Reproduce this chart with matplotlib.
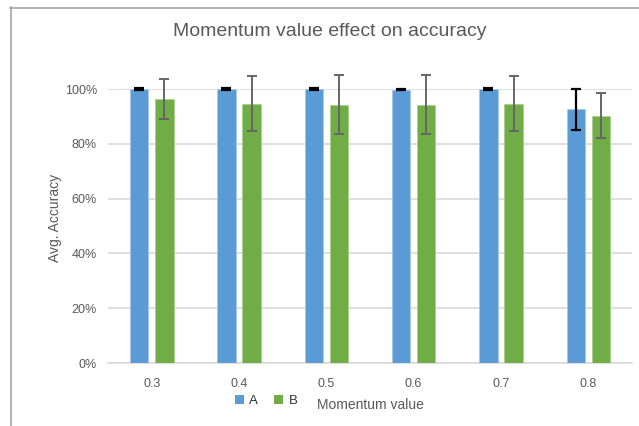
import matplotlib
matplotlib.use('Agg')
import matplotlib.pyplot as plt
from matplotlib.patches import Patch
from matplotlib.lines import Line2D
import numpy as np

# data
momentum = ['0.3', '0.4', '0.5', '0.6', '0.7', '0.8']
acc_a = [99.9, 99.9, 99.9, 99.8, 99.9, 92.6]
err_a = [0.3, 0.3, 0.3, 0.3, 0.3, 7.5]
acc_b = [96.4, 94.7, 94.3, 94.3, 94.7, 90.3]
err_b = [7.3, 10.1, 10.9, 10.9, 10.1, 8.3]

blue = '#5B9BD5'
green = '#70AD47'
txt = '#595959'
grid = '#D9D9D9'

plt.rcParams['font.family'] = ['Liberation Sans', 'DejaVu Sans']

fig = plt.figure(figsize=(6.39, 4.26), dpi=100)
W, H = 639, 426
ax = fig.add_axes([108 / W, 1 - 363 / H, 524 / W, 274 / H])

x = np.arange(len(momentum))
bw = 0.21
off = 0.145
ax.bar(x - off, acc_a, bw, color=blue, edgecolor='#A9C8EA', linewidth=0.6, zorder=3)
ax.bar(x + off, acc_b, bw, color=green, edgecolor='#A9D18E', linewidth=0.6, zorder=3)
ax.errorbar(x - off, acc_a, yerr=err_a, fmt='none', ecolor='black', elinewidth=1.6,
            capsize=3.5, capthick=1.6, zorder=4, clip_on=False)
ax.errorbar(x + off, acc_b, yerr=err_b, fmt='none', ecolor='#666666', elinewidth=1.4,
            capsize=3.5, capthick=1.4, zorder=4, clip_on=False)

ax.set_xlim(-0.5, len(momentum) - 0.5)
ax.set_ylim(0, 100)
ax.set_yticks(range(0, 101, 20))
ax.set_yticklabels([f'{v}%' for v in range(0, 101, 20)])
ax.set_xticks(x)
ax.set_xticklabels(momentum)
ax.tick_params(length=0, colors=txt, labelsize=9)
ax.tick_params(axis='x', pad=11)
ax.tick_params(axis='y', pad=8)
ax.yaxis.grid(True, color=grid, linewidth=1.2, zorder=0)
ax.set_axisbelow(True)
for s in ['top', 'right', 'left']:
    ax.spines[s].set_visible(False)
ax.spines['bottom'].set_color(grid)
ax.spines['bottom'].set_linewidth(1.2)

fig.text(55 / W, 1 - 218 / H, 'Avg. Accuracy', color=txt, fontsize=10, rotation=90,
         ha='center', va='center')
fig.text(370 / W, 1 - 405 / H, 'Momentum value', color=txt, fontsize=10, ha='center', va='center')
fig.text(330 / W, 1 - 31 / H, 'Momentum value effect on accuracy', color=txt, fontsize=14,
         ha='center', va='center')

handles = [Patch(facecolor=blue), Patch(facecolor=green)]
fig.legend(handles, ['A', 'B'], loc='center', bbox_to_anchor=(266 / W, 1 - 401 / H), ncol=2,
           frameon=False, fontsize=9.5, handlelength=0.7, handleheight=0.7, handletextpad=0.4,
           columnspacing=1.2, labelcolor='#333333')

# chart area border (cropped on right and bottom)
fig.add_artist(Line2D([10.5 / W, 10.5 / W], [0, 1 - 7 / H], color='#A6A6A6', linewidth=1.2))
fig.add_artist(Line2D([10 / W, 1], [1 - 7.5 / H, 1 - 7.5 / H], color='#A6A6A6', linewidth=1.2))

fig.savefig('out.png', dpi=100)
